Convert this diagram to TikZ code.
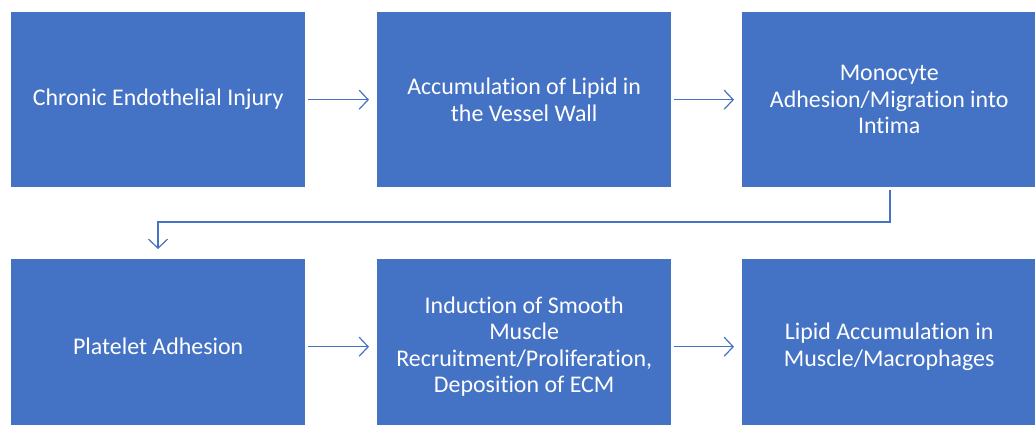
\documentclass[tikz,border=0pt]{standalone}
\usepackage{fontspec}
\setmainfont{Carlito}[Ligatures=CommonOff]
\usetikzlibrary{arrows.meta}
\definecolor{boxblue}{HTML}{4472C4}
\tikzset{
  stepbox/.style={draw=none, fill=boxblue, text=white, minimum width=294pt, minimum height=175pt,
    anchor=north west, inner sep=0pt, align=center, font=\fontsize{23.9}{26.5}\selectfont},
  flow/.style={draw=boxblue, line width=1.2pt, -{Straight Barb[length=9pt,width=19pt,line width=1.2pt]}}
}
\begin{document}
\begin{tikzpicture}[x=1pt,y=-1pt]
\useasboundingbox (0,0) rectangle (1035,425);
\clip (0,0) rectangle (1035,425);
\fill[white] (0,0) rectangle (1035,425);
\node[stepbox] (b1) at (11,12) {Chronic Endothelial Injury};
\node[stepbox] (b2) at (377,12) {Accumulation of Lipid in\\the Vessel Wall};
\node[stepbox] (b3) at (742,12) {Monocyte\\Adhesion/Migration into\\Intima};
\node[stepbox] (b4) at (11,259) {Platelet Adhesion};
\node[stepbox] (b5) at (377,259) {Induction of Smooth\\Muscle\\Recruitment/Proliferation,\\Deposition of ECM};
\node[stepbox] (b6) at (742,259) {Lipid Accumulation in\\Muscle/Macrophages};
\draw[flow] ([xshift=3pt]b1.east) -- ([xshift=-8pt]b2.west);
\draw[flow] ([xshift=3pt]b2.east) -- ([xshift=-8pt]b3.west);
\draw[flow] ([xshift=3pt]b4.east) -- ([xshift=-8pt]b5.west);
\draw[flow] ([xshift=3pt]b5.east) -- ([xshift=-8pt]b6.west);
\coordinate (c1) at (890,190);
\coordinate (c2) at (158,222);
\draw[flow] ([yshift=-3pt]b3.south -| c1) |- (c2) -- ([yshift=10pt]b4.north -| c2);
\end{tikzpicture}
\end{document}
